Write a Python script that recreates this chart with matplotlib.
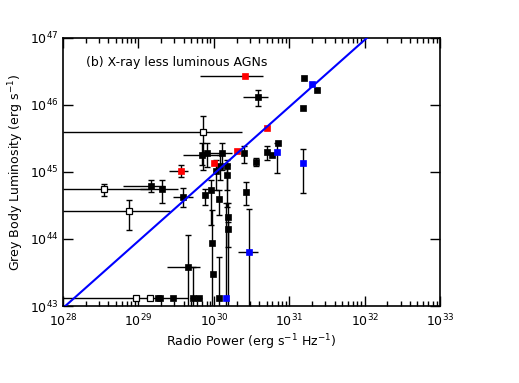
import numpy as np
import matplotlib
matplotlib.use('Agg')
import matplotlib.pyplot as plt
from matplotlib.ticker import LogLocator, NullLocator

# values in log10; None = no error bar in that direction
# black filled squares
blk_logp = [31.20, 31.37, 31.18, 30.59, 30.40, 30.56, 30.71, 30.77, 30.85, 30.43,
            29.84, 29.91, 30.11, 30.18, 30.08, 30.03, 30.18, 29.31, 29.17, 29.59,
            29.88, 29.96, 30.07, 29.98, 29.99, 30.19, 30.19, 29.66, 29.72, 29.80,
            30.07, 29.26, 29.29, 29.46]
blk_logl = [46.40, 46.22, 45.96, 46.12, 45.28, 45.15, 45.30, 45.25, 45.43, 44.70,
            45.25, 45.28, 45.28, 45.09, 45.09, 45.01, 44.96, 44.75, 44.79, 44.63,
            44.66, 44.73, 44.60, 43.94, 43.48, 44.33, 44.15, 43.58, 43.12, 43.12,
            43.12, 43.12, 43.12, 43.12]
blk_xlo = [None, None, None, 30.39, None, None, None, None, None, None,
           29.59, None, 29.82, None, None, None, None, 29.02, 28.80, 29.46,
           None, None, None, None, None, None, None, 29.38, 29.69, None,
           None, None, None, 29.10]
blk_xhi = [None, None, None, 30.72, None, None, None, None, None, None,
           30.06, None, 30.24, None, None, None, None, 29.53, 29.35, 29.72,
           None, None, None, None, None, None, None, 29.82, 29.84, None,
           None, None, None, 29.66]
blk_ylo = [None, None, None, 45.99, 45.13, 45.09, 45.18, None, None, 44.51,
           45.10, 45.07, 45.03, 44.73, 44.88, 44.73, 44.48, 44.54, 44.70, 44.48,
           44.51, 44.21, 44.36, 42.90, None, 43.88, 42.90, 42.90, 42.90, None,
           42.90, None, None, None]
blk_yhi = [None, None, None, 46.22, 45.39, 45.21, 45.39, None, None, 44.85,
           45.43, 45.43, 45.43, 45.18, 45.25, 45.18, 45.10, 44.88, 44.88, 44.76,
           44.75, 44.88, 44.73, 44.43, None, 44.54, 44.25, 44.06, 43.58, None,
           43.73, None, None, None]

# open squares
opn_logp = [28.97, 29.15, 29.86, 28.54, 28.88]
opn_logl = [43.12, 43.12, 45.60, 44.75, 44.42]
opn_xlo = [28.00, None, 28.00, 28.00, 28.00]
opn_xhi = [29.20, None, 30.37, 29.15, 29.42]
opn_ylo = [None, None, 45.03, 44.64, 44.13]
opn_yhi = [None, None, 45.84, 44.82, 44.58]

# red squares
red_logp = [30.41, 30.71, 29.56, 30.00, 30.31]
red_logl = [46.43, 45.66, 45.01, 45.13, 45.31]
red_xlo = [29.82, None, 29.41, None, None]
red_xhi = [30.65, None, 29.66, None, None]
red_ylo = [None, None, 44.93, None, None]
red_yhi = [None, None, 45.10, None, None]

# blue squares
blu_logp = [31.30, 30.84, 31.18, 30.47, 30.16]
blu_logl = [46.31, 45.30, 45.13, 43.81, 43.12]
blu_xlo = [None, None, None, 30.32, None]
blu_xhi = [None, None, None, 30.59, None]
blu_ylo = [None, 44.99, 44.69, 42.90, 42.90]
blu_yhi = [None, 45.43, 45.34, 44.45, 44.54]

# fitted relation: log L = log P + offset
line_offset = 14.97

fig = plt.figure(figsize=(5.19, 3.83), dpi=100)
ax = fig.add_axes([0.1214, 0.201, 0.7264, 0.7])


def draw_group(lp, ll, xlo, xhi, ylo, yhi, color, open_marker=False):
    for i in range(len(lp)):
        x = 10 ** lp[i]
        y = 10 ** ll[i]
        if xlo[i] is not None:
            ax.errorbar([x], [y], xerr=[[x - 10 ** xlo[i]], [10 ** xhi[i] - x]],
                        fmt='none', ecolor='black', elinewidth=1.0, capsize=0, zorder=2)
        if ylo[i] is not None:
            ax.errorbar([x], [y], yerr=[[y - 10 ** ylo[i]], [10 ** yhi[i] - y]],
                        fmt='none', ecolor='black', elinewidth=1.0, capsize=2,
                        capthick=1.0, zorder=2)
    xs = 10 ** np.array(lp)
    ys = 10 ** np.array(ll)
    if open_marker:
        ax.plot(xs, ys, 's', ms=5, mfc='white', mec='black', mew=0.9, zorder=3)
    else:
        ax.plot(xs, ys, 's', ms=3.9, mfc=color, mec=color, mew=0.5, zorder=3)


draw_group(blk_logp, blk_logl, blk_xlo, blk_xhi, blk_ylo, blk_yhi, 'black')
draw_group(opn_logp, opn_logl, opn_xlo, opn_xhi, opn_ylo, opn_yhi, 'black', open_marker=True)
draw_group(red_logp, red_logl, red_xlo, red_xhi, red_ylo, red_yhi, '#ff0000')
draw_group(blu_logp, blu_logl, blu_xlo, blu_xhi, blu_ylo, blu_yhi, '#0000ff')

lx = np.array([28.0, 33.0])
ax.plot(10 ** lx, 10 ** (lx + line_offset), color='#0000ff', lw=1.5, zorder=4)

ax.set_xscale('log')
ax.set_yscale('log')
ax.set_xlim(1e28, 1e33)
ax.set_ylim(1e43, 1e47)

ax.xaxis.set_major_locator(LogLocator(base=10, numticks=10))
ax.xaxis.set_minor_locator(LogLocator(base=10, subs=np.arange(2, 10), numticks=20))
ax.yaxis.set_major_locator(LogLocator(base=10, numticks=10))
ax.yaxis.set_minor_locator(NullLocator())

ax.tick_params(which='both', direction='in', top=True, right=True, width=1.0,
               labelsize=9, colors='black')
ax.tick_params(axis='x', which='major', length=7, pad=5)
ax.tick_params(axis='y', which='major', length=7, pad=3)
ax.tick_params(which='minor', length=3.5)
for s in ax.spines.values():
    s.set_linewidth(1.2)

ax.set_xlabel('Radio Power (erg s$^{-1}$ Hz$^{-1}$)', fontsize=9, labelpad=2)
ax.set_ylabel('Grey Body Luminosity (erg s$^{-1}$)', fontsize=9, labelpad=3)
ax.text(0.06, 0.91, '(b) X-ray less luminous AGNs', transform=ax.transAxes,
        fontsize=9, va='center', ha='left')

fig.savefig('out.png', dpi=100)
